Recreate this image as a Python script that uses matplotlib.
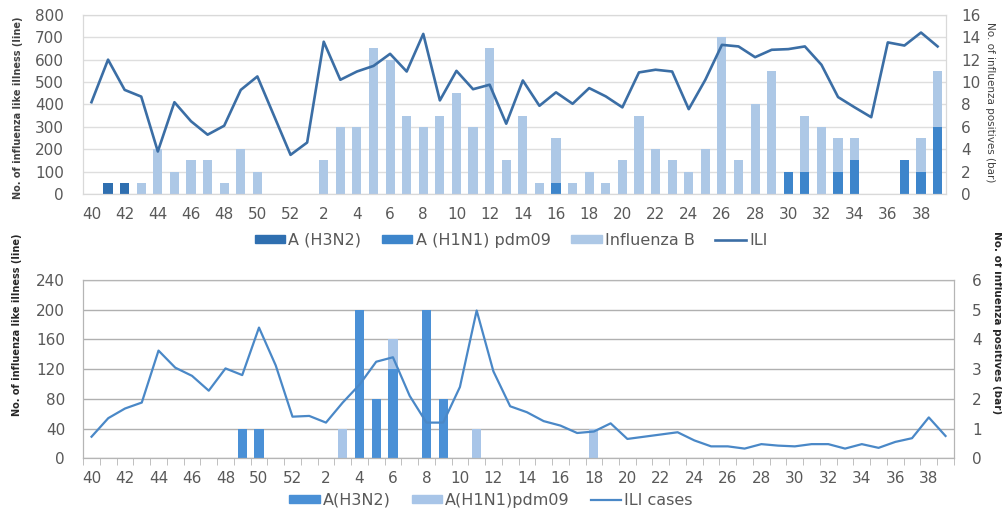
import numpy as np
import matplotlib.pyplot as plt
from matplotlib.patches import Patch
from matplotlib.lines import Line2D

# epidemiological weeks, week 40 to week 39 of next year
weeks = list(range(40, 53)) + list(range(1, 40))
tick_labels = [str(w) if i % 2 == 0 else "" for i, w in enumerate(weeks)]

# ---- top panel ----
top_ili = [410, 600, 465, 435, 190, 410, 325, 265, 305, 465, 525, 350, 175,
           230, 680, 510, 547, 572, 626, 547, 715, 418, 550, 468, 488, 314,
           507, 394, 454, 403, 473, 436, 387, 543, 555, 547, 379, 510, 666,
           659, 611, 644, 647, 659, 577, 433, 387, 343, 677, 663, 721, 659]
top_h3n2 = [0, 1, 1, 0, 0, 0, 0, 0, 0, 0, 0, 0, 0,
            0, 0, 0, 0, 0, 0, 0, 0, 0, 0, 0, 0, 0,
            0, 0, 0, 0, 0, 0, 0, 0, 0, 0, 0, 0, 0,
            0, 0, 0, 0, 0, 0, 0, 0, 0, 0, 0, 0, 0]
top_h1n1 = [0, 0, 0, 0, 0, 0, 0, 0, 0, 0, 0, 0, 0,
            0, 0, 0, 0, 0, 0, 0, 0, 0, 0, 0, 0, 0,
            0, 0, 1, 0, 0, 0, 0, 0, 0, 0, 0, 0, 0,
            0, 0, 0, 2, 2, 0, 2, 3, 0, 0, 3, 2, 6]
top_flub = [0, 0, 0, 1, 4, 2, 3, 3, 1, 4, 2, 0, 0,
            0, 3, 6, 6, 13, 12, 7, 6, 7, 9, 6, 13, 3,
            7, 1, 4, 1, 2, 1, 3, 7, 4, 3, 2, 4, 14,
            3, 8, 11, 0, 5, 6, 3, 2, 0, 0, 0, 3, 5]

# ---- bottom panel ----
bot_ili = [29, 54, 67, 75, 145, 122, 111, 91, 121, 112, 176, 125, 56,
           57, 48, 75, 99, 130, 136, 84, 48, 48, 96, 199, 117, 70,
           62, 50, 44, 34, 36, 47, 26, 29, 32, 35, 24, 16, 16,
           13, 19, 17, 16, 19, 19, 13, 19, 14, 22, 27, 55, 30]
bot_h3n2 = [0, 0, 0, 0, 0, 0, 0, 0, 0, 1, 1, 0, 0,
            0, 0, 0, 5, 2, 3, 0, 5, 2, 0, 0, 0, 0,
            0, 0, 0, 0, 0, 0, 0, 0, 0, 0, 0, 0, 0,
            0, 0, 0, 0, 0, 0, 0, 0, 0, 0, 0, 0, 0]
bot_h1n1 = [0, 0, 0, 0, 0, 0, 0, 0, 0, 0, 0, 0, 0,
            0, 0, 1, 0, 0, 1, 0, 0, 0, 0, 1, 0, 0,
            0, 0, 0, 0, 1, 0, 0, 0, 0, 0, 0, 0, 0,
            0, 0, 0, 0, 0, 0, 0, 0, 0, 0, 0, 0, 0]

plt.rcParams['font.family'] = ['DejaVu Sans']
txt = '#595959'

fig = plt.figure(figsize=(10.02, 5.12), dpi=100)
x = np.arange(len(weeks))

# ================= top chart =================
ax2 = fig.add_axes([0.083, 0.621, 0.861, 0.350])   # bars (right axis)
ax = fig.add_axes(ax2.get_position(), sharex=ax2)   # line (left axis)
ax.patch.set_visible(False)

c_h3 = '#2f6fb0'
c_h1 = '#3d85cb'
c_b = '#adc8e6'
c_line = '#3b6ea5'

bw = 0.55
ax2.bar(x, top_h3n2, bw, color=c_h3, zorder=2)
ax2.bar(x, top_h1n1, bw, bottom=top_h3n2, color=c_h1, zorder=2)
base = np.array(top_h3n2) + np.array(top_h1n1)
ax2.bar(x, top_flub, bw, bottom=base, color=c_b, zorder=2)
ax2.set_ylim(0, 16)
ax2.set_yticks(range(0, 17, 2))
ax2.yaxis.tick_right()
ax2.grid(axis='y', color='#dedede', lw=1, zorder=0)
ax2.set_axisbelow(True)

ax.plot(x, top_ili, color=c_line, lw=1.9, zorder=5)
ax.set_ylim(0, 800)
ax.set_yticks(range(0, 801, 100))
ax.set_xlim(-0.5, len(weeks) - 0.5)
ax.set_xticks(x)
ax.set_xticklabels(tick_labels)

for a in (ax, ax2):
    for s in a.spines.values():
        s.set_color('#d9d9d9')
    a.tick_params(length=0, labelsize=11, colors=txt)
ax.tick_params(axis='y', pad=14)
ax.tick_params(axis='x', pad=9)
ax2.tick_params(axis='y', pad=11, labelright=True, labelleft=False)
ax2.tick_params(axis='x', labelbottom=False)

fig.text(0.018, 0.79, 'No. of influenza like illness (line)', rotation=90,
         ha='center', va='center', fontsize=7, color='#404040', fontweight='bold')
fig.text(0.988, 0.80, 'No. of influenza positives (bar)', rotation=270,
         ha='center', va='center', fontsize=7.5, color='#404040')

h_top = [Patch(color=c_h3), Patch(color=c_h1), Patch(color=c_b),
         Line2D([], [], color=c_line, lw=1.9)]
fig.legend(h_top, ['A (H3N2)', 'A (H1N1) pdm09', 'Influenza B', 'ILI'],
           loc='center', bbox_to_anchor=(0.51, 0.531), ncol=4, frameon=False,
           fontsize=11.5, labelcolor=txt, handlelength=1.9, handleheight=0.45,
           handletextpad=0.2, columnspacing=1.3)

# ================= bottom chart =================
bx2 = fig.add_axes([0.083, 0.105, 0.869, 0.348])
bx = fig.add_axes(bx2.get_position(), sharex=bx2)
bx.patch.set_visible(False)

d_h3 = '#4a90d6'
d_h1 = '#a8c5e8'
d_line = '#4a88c7'

bw2 = 0.55
bx2.bar(x, bot_h3n2, bw2, color=d_h3, zorder=2)
bx2.bar(x, bot_h1n1, bw2, bottom=bot_h3n2, color=d_h1, zorder=2)
bx2.set_ylim(0, 6)
bx2.set_yticks(range(0, 7))
bx2.yaxis.tick_right()
bx2.grid(axis='y', color='#b0b0b0', lw=1, zorder=0)
bx2.set_axisbelow(True)

bx.plot(x, bot_ili, color=d_line, lw=1.6, zorder=5)
bx.set_ylim(0, 240)
bx.set_yticks(range(0, 241, 40))
bx.set_xlim(-0.5, len(weeks) - 0.5)
bx.set_xticks(x)
bx.set_xticklabels(tick_labels)
bx.set_xticks(np.arange(len(weeks) + 1) - 0.5, minor=True)

for a in (bx, bx2):
    for s in a.spines.values():
        s.set_color('#b5b5b5')
    a.tick_params(length=0, labelsize=11, colors=txt)
bx.tick_params(axis='x', which='minor', length=5, color='#b5b5b5')
bx.tick_params(axis='y', pad=13)
bx.tick_params(axis='x', pad=9)
bx2.tick_params(axis='y', pad=13, labelright=True, labelleft=False)
bx2.tick_params(axis='x', labelbottom=False, which='both', length=0)

fig.text(0.017, 0.365, 'No. of influenza like illness (line)', rotation=90,
         ha='center', va='center', fontsize=7, color='#262626', fontweight='bold')
fig.text(0.995, 0.37, 'No. of influenza positives (bar)', rotation=270,
         ha='center', va='center', fontsize=7.5, color='#262626', fontweight='bold')

h_bot = [Patch(color=d_h3), Patch(color=d_h1),
         Line2D([], [], color=d_line, lw=1.6)]
fig.legend(h_bot, ['A(H3N2)', 'A(H1N1)pdm09', 'ILI cases'],
           loc='center', bbox_to_anchor=(0.49, 0.023), ncol=3, frameon=False,
           fontsize=11.5, labelcolor=txt, handlelength=1.9, handleheight=0.45,
           handletextpad=0.2, columnspacing=1.3)

fig.savefig('out.png', dpi=100)
